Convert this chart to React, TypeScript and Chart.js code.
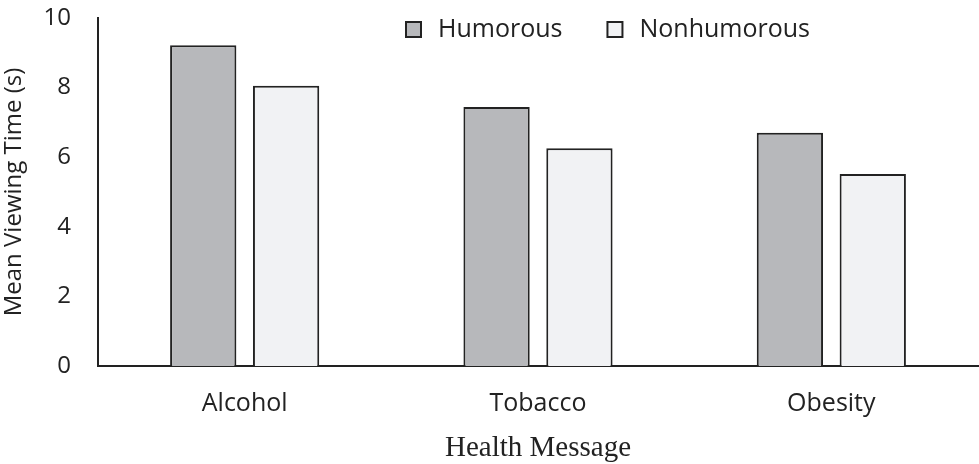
import React, { useEffect, useRef } from "react";
import { Chart, registerables } from "chart.js";

Chart.register(...registerables);

const categories = ["Alcohol", "Tobacco", "Obesity"];
const humorous = [9.22, 7.44, 6.7];
const nonhumorous = [8.05, 6.26, 5.52];
const seriesNames = ["Humorous", "Nonhumorous"];
const yTicks = [0, 2, 4, 6, 8, 10];

const SANS = "'Open Sans', 'Noto Sans', sans-serif";
const SERIF = "'Liberation Serif', 'Times New Roman', serif";
const colors = ["#b7b8bb", "#f1f2f4"];
const edge = "#222222";

const legendPlugin = {
  id: "customLegend",
  afterDraw(chart: any) {
    const ctx = chart.ctx;
    ctx.save();
    ctx.font = `25px ${SANS}`;
    ctx.textBaseline = "middle";
    ctx.textAlign = "left";
    const y = 29;
    const startX = 406;
    const box = 15;
    const gapAfterBox = 17;
    const gapBetween = 45;
    let x = startX;
    seriesNames.forEach((name, i) => {
      ctx.fillStyle = colors[i];
      ctx.fillRect(x, y - 7, box, box);
      ctx.strokeStyle = edge;
      ctx.lineWidth = 2;
      ctx.strokeRect(x, y - 7, box, box);
      ctx.fillStyle = edge;
      const tx = x + box + gapAfterBox;
      ctx.fillText(name, tx, y + 1);
      x = tx + ctx.measureText(name).width + gapBetween;
    });
    ctx.restore();
  },
};

export default function App() {
  const ref = useRef<HTMLCanvasElement>(null);
  useEffect(() => {
    document.body.style.margin = "0";
    const chart = new Chart(ref.current!, {
      type: "bar",
      data: {
        labels: categories,
        datasets: [
          {
            label: seriesNames[0],
            data: humorous,
            backgroundColor: colors[0],
            borderColor: edge,
            borderWidth: 2,
            categoryPercentage: 0.565,
            barPercentage: 0.8,
          },
          {
            label: seriesNames[1],
            data: nonhumorous,
            backgroundColor: colors[1],
            borderColor: edge,
            borderWidth: 2,
            categoryPercentage: 0.565,
            barPercentage: 0.8,
          },
        ],
      },
      options: {
        animation: false,
        responsive: false,
        layout: { padding: { top: 18, left: 0, right: 1, bottom: 0 } },
        plugins: { legend: { display: false }, tooltip: { enabled: false } },
        scales: {
          x: {
            grid: { display: false, drawTicks: false },
            border: { display: true, color: edge, width: 2 },
            ticks: { color: "#222", font: { family: SANS, size: 25 }, padding: 23 },
            title: {
              display: true,
              text: "Health Message",
              color: "#222",
              font: { family: SERIF, size: 29 },
              padding: { top: 4, bottom: -2 },
            },
            afterFit(scale: any) {
              scale.height = 98;
            },
          },
          y: {
            min: 0,
            max: 10,
            afterBuildTicks(scale: any) {
              scale.ticks = yTicks.map((v) => ({ value: v }));
            },
            grid: { display: false, drawTicks: false },
            border: { display: true, color: edge, width: 2 },
            ticks: { color: "#222", font: { family: SANS, size: 24 }, padding: 27 },
            title: {
              display: true,
              text: "Mean Viewing Time (s)",
              color: "#222",
              font: { family: SANS, size: 24 },
              padding: { top: 0, bottom: 4 },
            },
            afterFit(scale: any) {
              scale.width = 98;
              scale.paddingTop = 0;
              scale.paddingBottom = 0;
            },
          },
        },
      },
      plugins: [legendPlugin],
    });
    return () => chart.destroy();
  }, []);
  return (
    <div style={{ width: 979, height: 464 }}>
      <canvas ref={ref} width={979} height={464} />
    </div>
  );
}
